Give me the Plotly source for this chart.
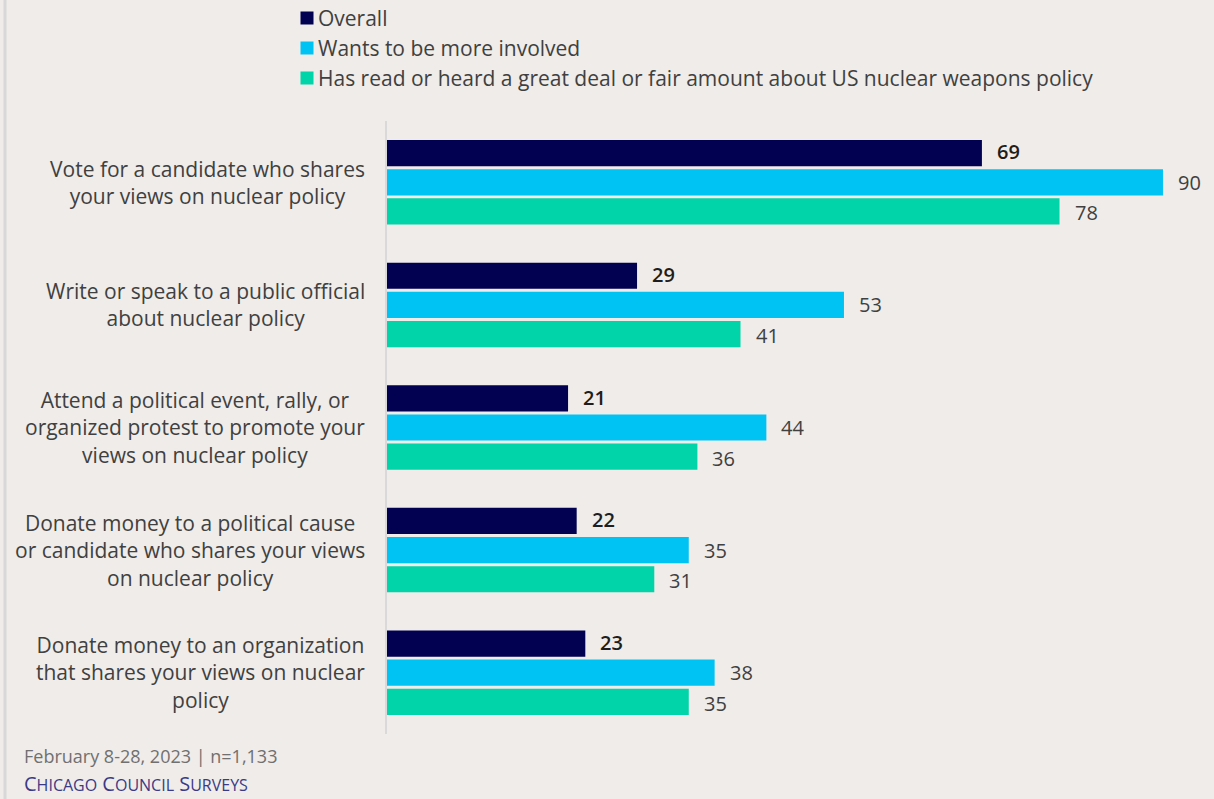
import plotly.graph_objects as go

# Survey items (top to bottom)
categories = [
    "Vote for a candidate who shares<br>your views on nuclear policy",
    "Write or speak to a public official<br>about nuclear policy",
    "Attend a political event, rally, or<br>organized protest to promote your<br>views on nuclear policy",
    "Donate money to a political cause<br>or candidate who shares your views<br>on nuclear policy",
    "Donate money to an organization<br>that shares your views on nuclear<br>policy",
]
overall = [69, 29, 21, 22, 23]
wants_involved = [90, 53, 44, 35, 38]
has_read = [78, 41, 36, 31, 35]

series_names = [
    "Overall",
    "Wants to be more involved",
    "Has read or heard a great deal or fair amount about US nuclear weapons policy",
]
series_values = [overall, wants_involved, has_read]
series_colors = ["#020050", "#00C3F4", "#00D4A8"]
label_colors = ["#1E1E1E", "#404040", "#404040"]
label_weights = [600, 400, 400]

W, H = 1214, 799
ML, MR, MT, MB = 387, 20, 121, 65
PW, PH = W - ML - MR, H - MT - MB
X_MAX = PW / 8.622  # 8.622 px per percentage point


def px_x(px):
    return (px - ML) / PW


def px_y(py):
    return (H - MB - py) / PH


FONT = "Open Sans"
BG = "#EFECE9"
keys = list(range(len(categories)))

fig = go.Figure()
for name, vals, col in zip(series_names, series_values, series_colors):
    fig.add_trace(go.Bar(
        y=keys, x=vals, name=name, orientation="h",
        marker=dict(color=col, line=dict(width=0)),
        showlegend=False, hoverinfo="x+name",
    ))

annotations = []

# value labels next to the bar ends
n = len(series_values)
for s, vals in enumerate(series_values):
    for i, v in enumerate(vals):
        annotations.append(dict(
            x=v, y=i, xref="x", yref="y",
            text=str(v), showarrow=False, xanchor="left", yanchor="middle",
            xshift=13, yshift=-(s - (n - 1) / 2) * 30.5,
            font=dict(family=FONT, size=20, color=label_colors[s],
                      weight=label_weights[s]),
        ))

# category labels, centred multi-line text
for i, cat in enumerate(categories):
    annotations.append(dict(
        x=0, y=i, xref="paper", yref="y", text=cat, showarrow=False,
        xanchor="right", yanchor="middle", align="center", xshift=-20,
        font=dict(family=FONT, size=21, color="#404040"),
    ))

# legend rows
legend_rows_y = [18, 48, 78]
for name, col, py in zip(series_names, series_colors, legend_rows_y):
    annotations.append(dict(
        x=px_x(300), y=px_y(py), xref="paper", yref="paper", text="",
        showarrow=False, xanchor="left", yanchor="middle",
        width=12, height=12, bgcolor=col, borderpad=0,
    ))
    annotations.append(dict(
        x=px_x(316), y=px_y(py), xref="paper", yref="paper", text=name,
        showarrow=False, xanchor="left", yanchor="middle",
        font=dict(family=FONT, size=21, color="#404040"),
    ))

# footer
annotations.append(dict(
    x=px_x(22), y=px_y(756), xref="paper", yref="paper",
    text="February 8-28, 2023 | n=1,133", showarrow=False,
    xanchor="left", yanchor="middle",
    font=dict(family=FONT, size=18, color="#707070"),
))
sc = "<span style='font-size:16px'>{}</span>"
annotations.append(dict(
    x=px_x(22), y=px_y(783), xref="paper", yref="paper",
    text="C" + sc.format("HICAGO") + " C" + sc.format("OUNCIL") + " S" + sc.format("URVEYS"),
    showarrow=False, xanchor="left", yanchor="middle",
    font=dict(family=FONT, size=20, color="#3A3A86"),
))

fig.update_layout(
    width=W, height=H,
    margin=dict(l=ML, r=MR, t=MT, b=MB),
    paper_bgcolor=BG, plot_bgcolor=BG,
    barmode="group", bargap=0.287, bargroupgap=0.1,
    annotations=annotations,
    shapes=[dict(type="line", xref="paper", yref="paper",
                 x0=px_x(5), x1=px_x(5), y0=px_y(0), y1=px_y(H),
                 line=dict(color="#D8D8D8", width=3))],
    xaxis=dict(range=[0, X_MAX], visible=False, fixedrange=True),
    yaxis=dict(range=[len(categories) - 0.5, -0.5], showticklabels=False,
               showgrid=False, zeroline=False, ticks="",
               showline=True, linecolor="#D9D9D9", linewidth=2,
               fixedrange=True),
    font=dict(family=FONT),
)

fig.write_html("out.html")
